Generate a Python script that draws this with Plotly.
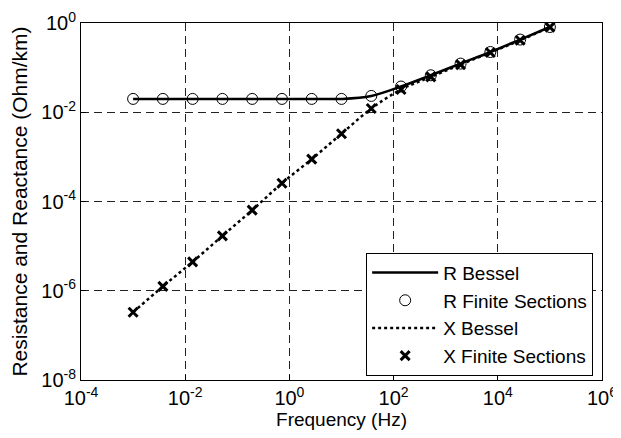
import plotly.graph_objects as go

# Frequencies (Hz) at which the finite-section model was evaluated
freq = [0.001, 0.003728, 0.01389, 0.05179, 0.1931, 0.7197, 2.683, 10.0,
        37.28, 138.9, 517.9, 1931.0, 7197.0, 26827.0, 100000.0]

# Resistance (Ohm/km)
r_bessel = [0.0199, 0.0199, 0.0199, 0.0199, 0.0199, 0.0199, 0.0199, 0.0199,
            0.0232, 0.0377, 0.0674, 0.123, 0.224, 0.425, 0.813]
r_finite = [0.0199, 0.0199, 0.0199, 0.0199, 0.0199, 0.0199, 0.0199, 0.0199,
            0.0232, 0.0377, 0.0674, 0.123, 0.224, 0.425, 0.813]

# Reactance (Ohm/km)
x_bessel = [3.3e-7, 1.25e-6, 4.45e-6, 1.7e-5, 6.4e-5, 2.57e-4, 8.9e-4, 3.3e-3,
            0.0121, 0.0323, 0.062, 0.117, 0.218, 0.41, 0.81]
x_finite = [3.3e-7, 1.25e-6, 4.45e-6, 1.7e-5, 6.4e-5, 2.57e-4, 8.9e-4, 3.3e-3,
            0.0121, 0.0323, 0.062, 0.117, 0.218, 0.41, 0.81]

x_tickvals = [1e-4, 1e-2, 1e0, 1e2, 1e4, 1e6]
x_ticktext = ["10<sup>-4</sup>", "10<sup>-2</sup>", "10<sup>0</sup>",
              "10<sup>2</sup>", "10<sup>4</sup>", "10<sup>6</sup>"]
y_tickvals = [1e-8, 1e-6, 1e-4, 1e-2, 1e0]
y_ticktext = ["10<sup>-8</sup>", "10<sup>-6</sup>", "10<sup>-4</sup>",
              "10<sup>-2</sup>", "10<sup>0</sup>"]

fig = go.Figure()
fig.add_trace(go.Scatter(x=freq, y=r_bessel, mode="lines", name="R Bessel",
                         line=dict(color="black", width=2.5, shape="spline")))
fig.add_trace(go.Scatter(x=freq, y=r_finite, mode="markers", name="R Finite Sections",
                         marker=dict(symbol="circle-open", size=11, color="black",
                                     line=dict(width=1, color="black"))))
fig.add_trace(go.Scatter(x=freq, y=x_bessel, mode="lines", name="X Bessel",
                         line=dict(color="black", width=2.5, dash="dot", shape="spline")))
fig.add_trace(go.Scatter(x=freq, y=x_finite, mode="markers", name="X Finite Sections",
                         marker=dict(symbol="x-thin", size=9, color="black",
                                     line=dict(width=3, color="black"))))

font = "Liberation Sans, Arial, sans-serif"
# The page body has an 8px margin, so the figure is 8px smaller and margins shifted
fig.update_layout(
    template="none",
    width=613, height=430,
    margin=dict(l=73, r=19, t=15, b=58, autoexpand=False),
    paper_bgcolor="white", plot_bgcolor="white",
    font=dict(family=font, size=17, color="black"),
    showlegend=True,
    legend=dict(x=0.983, y=0.012, xanchor="right", yanchor="bottom",
                bgcolor="white", bordercolor="black", borderwidth=1,
                font=dict(size=19, family=font), tracegroupgap=0,
                itemwidth=66),
)
fig.update_xaxes(
    type="log", range=[-4, 6], automargin=False,
    tickvals=x_tickvals, ticktext=x_ticktext,
    tickfont=dict(size=20), ticklabeloverflow="allow",
    showline=True, linecolor="black", linewidth=1, mirror=True,
    ticks="inside", ticklen=5, tickcolor="black",
    showgrid=True, gridcolor="#222222", griddash="8px,5px", gridwidth=1,
    zeroline=False,
    title=dict(text="Frequency (Hz)", font=dict(size=19), standoff=2),
)
fig.update_yaxes(
    type="log", range=[-8, 0], automargin=False,
    tickvals=y_tickvals, ticktext=y_ticktext,
    tickfont=dict(size=20), ticklabeloverflow="allow",
    showline=True, linecolor="black", linewidth=1, mirror=True,
    ticks="inside", ticklen=5, tickcolor="black",
    showgrid=True, gridcolor="#222222", griddash="8px,5px", gridwidth=1,
    zeroline=False,
    title=dict(text="Resistance and Reactance (Ohm/km)", font=dict(size=21), standoff=12),
)

fig.write_html("out.html")
